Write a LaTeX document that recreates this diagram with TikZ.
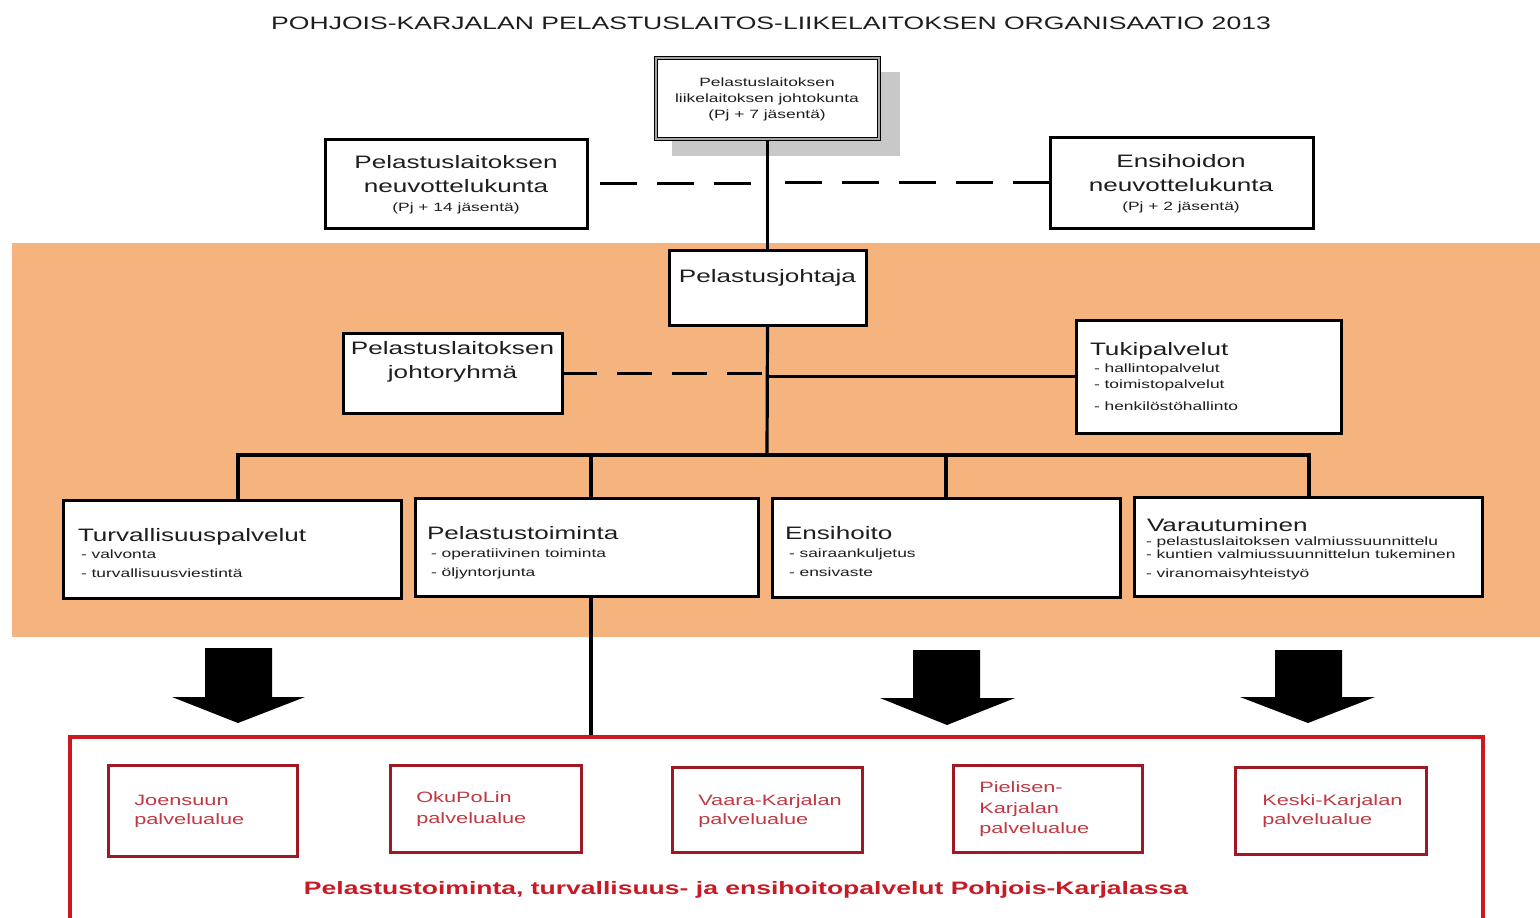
\documentclass[tikz,border=0pt]{standalone}
\usepackage{fontspec}
\setmainfont{Liberation Sans}
\definecolor{band}{RGB}{245,180,126}
\definecolor{txt}{RGB}{30,30,30}
\definecolor{rout}{RGB}{204,24,32}
\definecolor{rdark}{RGB}{160,24,36}
\definecolor{rtext}{RGB}{192,56,66}
\definecolor{rbold}{RGB}{200,26,36}
\definecolor{shadow}{RGB}{200,200,200}
\tikzset{
  box/.style={draw=black, line width=3pt, fill=white, inner sep=0pt, outer sep=0pt},
  lbl/.style={inner sep=0pt, outer sep=0pt, xscale=1.45, text=txt},
  big/.style={font=\fontsize{18}{22}\selectfont},
  small/.style={font=\fontsize{12}{14}\selectfont},
  conn/.style={line width=3.2pt},
  dconn/.style={line width=2.8pt, dash pattern=on 37pt off 20pt},
  rbox/.style={draw=rdark, line width=3pt, inner sep=0pt, outer sep=0pt},
  rtxt/.style={font=\fontsize{15}{18}\selectfont, text=rtext, xscale=1.45, inner sep=0pt, anchor=base west},
  blockarrow/.style={fill=black}
}
\begin{document}
\begin{tikzpicture}[x=1pt,y=-1pt]
\clip (0,0) rectangle (1540,918);
\fill[white] (0,0) rectangle (1540,918);
% title
\node[lbl, big, anchor=base, xscale=1.018] (title) at (771,29) {POHJOIS-KARJALAN PELASTUSLAITOS-LIIKELAITOKSEN ORGANISAATIO 2013};
% board
\fill[shadow] (672,72) rectangle (900,156);
\node[draw=black, line width=1.3pt, double=gray!70, double distance=1.6pt, fill=white, inner sep=0pt, minimum width=223pt, minimum height=81pt] (board) at (767.5,98.5) {};
\node[lbl, small, anchor=base] (board1) at (767,86) {Pelastuslaitoksen};
\node[lbl, small, anchor=base] (board2) at (767,102) {liikelaitoksen johtokunta};
\node[lbl, small, anchor=base] (board3) at (767,118) {(Pj + 7 jäsentä)};
% advisory boards
\node[box, minimum width=262pt, minimum height=89pt] (neuvL) at (456,183.5) {};
\node[lbl, big, anchor=base] (neuvL1) at (456,168) {Pelastuslaitoksen};
\node[lbl, big, anchor=base] (neuvL2) at (456,192) {neuvottelukunta};
\node[lbl, small, anchor=base] (neuvL3) at (456,211) {(Pj + 14 jäsentä)};
\node[box, minimum width=263pt, minimum height=91pt] (neuvR) at (1181.5,182.5) {};
\node[lbl, big, anchor=base] (neuvR1) at (1181,167) {Ensihoidon};
\node[lbl, big, anchor=base] (neuvR2) at (1181,191) {neuvottelukunta};
\node[lbl, small, anchor=base] (neuvR3) at (1181,210) {(Pj + 2 jäsentä)};
% orange band
\fill[band] (12,243) rectangle (1540,637);
% chief
\node[box, minimum width=197pt, minimum height=75pt] (chief) at (767.5,287.5) {};
\node[lbl, big, anchor=base] (chief1) at (767.5,282) {Pelastusjohtaja};
% management group
\node[box, minimum width=219pt, minimum height=80pt] (johto) at (452.5,373) {};
\node[lbl, big, anchor=base] (johto1) at (452.5,354) {Pelastuslaitoksen};
\node[lbl, big, anchor=base] (johto2) at (452.5,378) {johtoryhmä};
% support services
\node[box, minimum width=265pt, minimum height=113pt] (tuki) at (1208.5,376.5) {};
\node[lbl, big, anchor=base west] (tuki0) at (1090,355) {Tukipalvelut};
\node[lbl, small, anchor=base west] (tuki1) at (1094,372) {- hallintopalvelut};
\node[lbl, small, anchor=base west] (tuki2) at (1094,388) {- toimistopalvelut};
\node[lbl, small, anchor=base west] (tuki3) at (1094,410) {- henkilöstöhallinto};
% units
\node[box, minimum width=338pt, minimum height=98pt] (turv) at (232,549) {};
\node[lbl, big, anchor=base west] (turv0) at (78,541) {Turvallisuuspalvelut};
\node[lbl, small, anchor=base west] (turv1) at (81,558) {- valvonta};
\node[lbl, small, anchor=base west] (turv2) at (81,577) {- turvallisuusviestintä};
\node[box, minimum width=343pt, minimum height=98pt] (pel) at (586.5,547) {};
\node[lbl, big, anchor=base west] (pel0) at (427,539) {Pelastustoiminta};
\node[lbl, small, anchor=base west] (pel1) at (431,557) {- operatiivinen toiminta};
\node[lbl, small, anchor=base west] (pel2) at (431,576) {- öljyntorjunta};
\node[box, minimum width=348pt, minimum height=99pt] (ens) at (946,547.5) {};
\node[lbl, big, anchor=base west] (ens0) at (785,539) {Ensihoito};
\node[lbl, small, anchor=base west] (ens1) at (789,557) {- sairaankuljetus};
\node[lbl, small, anchor=base west] (ens2) at (789,576) {- ensivaste};
\node[box, minimum width=348pt, minimum height=99pt] (var) at (1308,546.5) {};
\node[lbl, big, anchor=base west] (var0) at (1147,531) {Varautuminen};
\node[lbl, small, anchor=base west] (var1) at (1146,545) {- pelastuslaitoksen valmiussuunnittelu};
\node[lbl, small, anchor=base west] (var2) at (1146,558) {- kuntien valmiussuunnittelun tukeminen};
\node[lbl, small, anchor=base west] (var3) at (1146,577) {- viranomaisyhteistyö};
% connectors
\coordinate (bus) at (767,455);
\coordinate (d1) at (238,455);
\coordinate (d2) at (591,455);
\coordinate (d3) at (946,455);
\coordinate (d4) at (1309,455);
\draw[conn] (board.south) -- (chief.north);
\draw[dconn, dash phase=-13pt] (neuvL.east) -- (neuvL.east -| board.south);
\draw[dconn] (neuvR.west) -- (neuvR.west -| board.south);
\draw[conn] (chief.south) -- (bus);
\draw[conn] (chief.south |- tuki.west) -- (tuki.west);
\draw[line width=3pt, dash pattern=on 35pt off 20pt] (johto.east) -- (johto.east -| chief.south);
\draw[conn] ([xshift=-1.6pt]d1) -- ([xshift=1.6pt]d4);
\draw[conn] (d1) -- (d1 |- turv.north);
\draw[conn] (d2) -- (d2 |- pel.north);
\draw[conn] (d3) -- (d3 |- ens.north);
\draw[conn] (d4) -- (d4 |- var.north);
% region
\node[draw=rout, line width=4pt, inner sep=0pt, minimum width=1413pt, minimum height=200pt] (region) at (776.5,837) {};
\draw[conn] (pel.south -| d2) -- (d2 |- region.north);
% block arrows
\fill[blockarrow] (205,648) -- (272,648) -- (272,697) -- (305,697) -- (238,723) -- (172,697) -- (205,697) -- cycle;
\fill[blockarrow] (913,650) -- (980,650) -- (980,698) -- (1015,698) -- (947,725) -- (880,698) -- (913,698) -- cycle;
\fill[blockarrow] (1275,650) -- (1342,650) -- (1342,697) -- (1375,697) -- (1308,723) -- (1240,697) -- (1275,697) -- cycle;
% service areas
\node[rbox, minimum width=189pt, minimum height=91pt] (joe) at (202.5,810.5) {};
\node[rtxt] (joe1) at (134,805) {Joensuun};
\node[rtxt] (joe2) at (134,824) {palvelualue};
\node[rbox, minimum width=191pt, minimum height=87pt] (oku) at (485.5,808.5) {};
\node[rtxt] (oku1) at (416,802) {OkuPoLin};
\node[rtxt] (oku2) at (416,823) {palvelualue};
\node[rbox, minimum width=190pt, minimum height=85pt] (vaa) at (767,809.5) {};
\node[rtxt] (vaa1) at (698,805) {Vaara-Karjalan};
\node[rtxt] (vaa2) at (698,824) {palvelualue};
\node[rbox, minimum width=189pt, minimum height=87pt] (pie) at (1047.5,808.5) {};
\node[rtxt] (pie1) at (979,792) {Pielisen-};
\node[rtxt] (pie2) at (979,813) {Karjalan};
\node[rtxt] (pie3) at (979,833) {palvelualue};
\node[rbox, minimum width=191pt, minimum height=87pt] (kes) at (1330.5,810.5) {};
\node[rtxt] (kes1) at (1262,805) {Keski-Karjalan};
\node[rtxt] (kes2) at (1262,824) {palvelualue};
\node[inner sep=0pt, xscale=1.473, text=rbold, font=\fontsize{18}{22}\selectfont\bfseries, anchor=base] (regtxt) at (746,894) {Pelastustoiminta, turvallisuus- ja ensihoitopalvelut Pohjois-Karjalassa};
\end{tikzpicture}
\end{document}
